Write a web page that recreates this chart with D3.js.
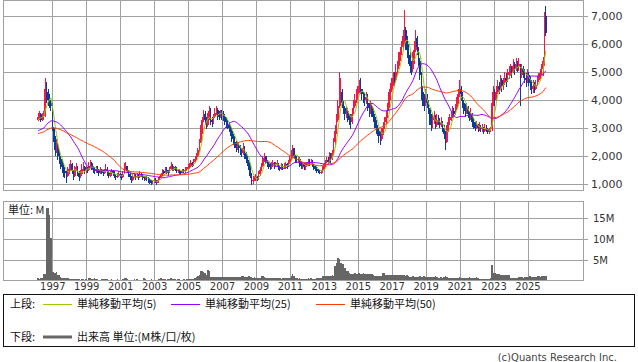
<!DOCTYPE html>
<html>
<head>
<meta charset="utf-8">
<script src="https://cdn.jsdelivr.net/npm/d3@7"></script>
<style>
body { margin: 0; background: #fff; }
</style>
</head>
<body>
<div id="chart"></div>
<script>
// monthly bars, first one is Mar 1996
const startYear = 1996, startMonth = 2

// earlier closes (Feb 1992 - Feb 1996), not drawn: estimated from where the averages start
const priorCloses = [
  2600,2650,2700,2600,2550,2650,2700,2750,2700,2650,2600,2700,2750,2800,2700,2650,2700,2750,2800,2750,2700,2650,2750,2800,2700,
  2750,2800,2850,2800,2750,2700,2800,2850,2900,2850,2800,2750,2700,2750,2800,2850,2900,2850,2800,2750,
  3150,3250,3300,3300
]

const closes = [
  3400,3500,3300,3450,3450,4400,4300,4000,3900,3800,
  3000,2600,2200,2400,2000,1900,1700,1600,1450,1400,1300,1450,
  1550,1700,1450,1300,1500,1600,1400,1250,1350,1550,1600,1450,
  1550,1500,1650,1750,1600,1500,1450,1550,1500,1400,1500,1450,
  1400,1450,1550,1400,1300,1350,1450,1400,1300,1250,1300,1350,
  1300,1250,1350,1550,1650,1450,1350,1250,1150,1250,1300,1250,
  1300,1250,1350,1300,1250,1200,1250,1200,1150,1100,1050,1100,
  1150,1100,1050,1150,1250,1350,1450,1400,1500,1450,1400,1550,
  1650,1500,1600,1550,1450,1500,1450,1400,1500,1450,1500,1550,
  1600,1650,1750,1700,1800,1900,2000,2200,2500,2900,3300,3500,
  3300,3100,3400,3600,3300,3200,3400,3550,3650,3500,3400,3550,
  3500,3400,3300,3200,3100,3000,2900,2700,2600,2500,2300,2350,
  2300,2200,2100,2300,2100,1900,1800,1600,1300,1100,1150,1200,
  1250,1200,1350,1500,1650,1900,2000,1800,1750,1700,1600,1700,
  1750,1650,1700,1750,1600,1550,1650,1600,1650,1700,1650,1750,
  1900,2100,2300,2000,1900,1850,1900,1700,1650,1700,1600,1650,
  1700,1800,1750,1800,1650,1600,1550,1500,1450,1400,1420,1550,
  1650,1750,1850,1800,2000,1900,2100,2500,2900,3300,3800,4300,
  4300,3900,3700,3500,3600,3400,3300,3200,3500,3800,4000,4200,
  4300,4500,4400,4200,4100,4000,4100,3900,3700,3800,3600,3400,
  3300,3000,2900,2700,2600,2800,3000,3200,3400,3700,4100,4400,
  4600,4800,4700,5000,5200,5500,5700,5900,6300,6500,6200,5800,
  5600,5200,5100,5400,5800,6200,5900,5400,4900,4300,4000,3800,
  4100,3900,3700,3400,3100,3300,3400,3100,3300,3200,3100,3200,
  3000,2800,2500,2900,3200,3300,3400,3600,3500,3700,3900,4200,
  4400,4200,3900,3700,3600,3700,3500,3400,3500,3200,3100,3000,
  3100,3000,3050,2950,3000,2900,3000,2950,2850,2900,2950,3900,
  4200,4000,4300,4500,4400,4700,4500,4600,4800,4700,4900,5000,
  5100,5000,5200,5100,5300,5200,5300,4900,5100,5000,4800,4700,
  4900,4700,4600,4400,4500,4400,4550,4700,4800,4950,5100,5400,
  7000,6400
]

const highs = [
  3550,3600,3550,3550,3600,4800,4650,4400,4200,4000,
  3900,3050,2700,2600,2450,2200,2000,1900,1750,1600,1450,1600,
  1700,1850,1750,1500,1650,1750,1650,1450,1500,1700,1800,1650,
  1650,1600,1800,1850,1800,1650,1600,1650,1650,1550,1600,1550,
  1500,1550,1700,1600,1450,1450,1550,1500,1450,1350,1400,1450,
  1400,1350,1450,1750,1800,1650,1500,1400,1300,1350,1400,1350,
  1400,1350,1450,1400,1350,1300,1300,1300,1250,1200,1150,1150,
  1200,1200,1150,1250,1300,1400,1550,1500,1600,1600,1500,1600,
  1780,1700,1650,1650,1600,1550,1550,1500,1550,1550,1600,1600,
  1700,1750,1850,1800,1900,2000,2100,2300,2600,3100,3400,3650,
  3600,3400,3550,3800,3700,3400,3500,3700,3800,3700,3600,3650,
  3650,3600,3500,3400,3300,3200,3100,3000,2800,2700,2550,2500,
  2500,2400,2300,2450,2350,2150,2000,1850,1700,1400,1300,1300,
  1350,1300,1450,1600,1750,2000,2100,2000,1850,1800,1750,1800,
  1850,1800,1800,1850,1750,1650,1750,1700,1750,1800,1750,1850,
  2000,2200,2400,2300,2050,2000,2000,1950,1800,1800,1750,1750,
  1800,1900,1900,1900,1850,1700,1650,1600,1550,1500,1500,1650,
  1700,1850,1950,1950,2150,2100,2200,2650,3100,3500,4000,5000,
  4800,4400,4000,3800,3800,3700,3500,3500,3700,4000,4200,4400,
  4500,4700,4800,4400,4300,4250,4300,4200,3900,3950,3900,3700,
  3500,3300,3100,3000,2900,3000,3200,3400,3600,3900,4300,4600,
  4800,5000,5000,5300,5400,5700,5900,6100,6500,7200,6600,6300,
  6000,5700,5400,5700,6100,6500,6300,5900,5500,5000,4500,4200,
  4400,4200,4000,3700,3500,3500,3600,3450,3500,3450,3350,3400,
  3250,3100,2900,3100,3400,3500,3600,3800,3700,3850,4100,4400,
  4700,4500,4300,4000,3850,3900,3800,3600,3700,3550,3350,3200,
  3250,3150,3200,3100,3150,3050,3150,3100,3000,3000,3050,4300,
  4500,4400,4500,4700,4650,4900,4800,4800,5000,4950,5100,5200,
  5300,5200,5450,5350,5500,5400,5500,5300,5300,5200,5100,4950,
  5100,5000,4850,4700,4700,4650,4700,4850,4950,5100,5300,5550,
  7150,7350
]

const lows = [
  3250,3300,3200,3250,3300,3400,3900,3800,3700,3600,
  2900,2500,2000,2100,1850,1700,1550,1400,1250,1200,1050,1250,
  1350,1450,1350,1150,1250,1450,1300,1100,1200,1300,1450,1350,
  1400,1400,1450,1600,1500,1400,1350,1400,1400,1300,1350,1350,
  1300,1350,1400,1300,1200,1250,1300,1300,1200,1150,1200,1250,
  1200,1150,1200,1350,1500,1400,1250,1150,1050,1100,1200,1150,
  1200,1150,1200,1250,1150,1100,1150,1100,1050,1000,960,1000,
  1050,1050,980,1050,1150,1250,1300,1350,1400,1350,1300,1400,
  1500,1450,1450,1450,1400,1400,1350,1350,1400,1400,1400,1450,
  1500,1550,1600,1600,1650,1750,1850,1950,2150,2450,2800,3200,
  3100,2950,3050,3300,3100,3050,3150,3350,3450,3300,3300,3350,
  3300,3250,3100,3000,2950,2850,2700,2500,2400,2300,2150,2200,
  2100,2050,1950,2050,1900,1750,1650,1500,1200,950,1000,1100,
  1100,1100,1150,1300,1450,1600,1800,1700,1600,1550,1500,1550,
  1600,1550,1600,1600,1500,1450,1500,1500,1550,1550,1550,1600,
  1700,1850,1900,1900,1750,1750,1750,1600,1550,1550,1500,1500,
  1600,1650,1650,1700,1600,1500,1450,1400,1380,1350,1350,1400,
  1500,1600,1750,1700,1750,1750,1850,2050,2400,2800,3200,3700,
  3800,3700,3500,3300,3350,3200,3100,2950,3150,3500,3700,3900,
  4000,4250,4200,4000,3900,3800,3850,3600,3400,3500,3400,3200,
  3000,2800,2700,2450,2400,2550,2750,2950,3150,3350,3600,4000,
  4300,4500,4500,4650,4900,5100,5400,5600,5800,6000,5800,5500,
  5300,4950,4900,5000,5300,5700,5600,5200,4700,4000,3800,3600,
  3800,3700,3500,3100,2900,3000,3150,2950,3050,3100,3000,3050,
  2850,2600,2200,2450,2850,3100,3250,3350,3400,3450,3650,3850,
  4100,3950,3700,3500,3400,3500,3350,3250,3300,3050,2950,2900,
  2950,2850,2900,2850,2850,2800,2850,2850,2780,2800,2850,2900,
  3800,3800,3950,4200,4200,4350,4300,4350,4550,4450,4650,4750,
  4850,4800,4950,4900,5050,5000,5050,3800,4800,4800,4600,4450,
  4600,4500,4350,4200,4250,4250,4350,4500,4650,4750,4900,4850,
  5200,6300
]

// volume, millions of shares
const volumes = [
  0.6,0.5,0.6,0.7,1.6,1.7,17.5,17.3,15.7,10.2,
  2.2,2.1,2.0,2.1,1.5,1.4,0.9,0.8,0.8,0.7,0.7,0.6,
  0.5,0.5,0.4,0.4,0.4,0.5,0.4,0.4,0.3,0.4,0.4,0.3,
  0.4,0.3,0.7,0.8,0.5,0.4,0.6,0.5,0.4,0.3,0.3,0.4,
  0.4,0.5,0.5,0.4,0.3,0.3,0.4,0.3,0.3,0.3,0.4,0.3,
  0.3,0.3,0.4,0.7,0.6,0.4,0.3,0.3,0.3,0.3,0.4,0.3,
  0.4,0.3,0.3,0.3,0.3,0.6,0.4,0.3,0.3,0.3,0.4,0.3,
  0.3,0.3,0.3,0.4,0.5,0.6,0.5,0.4,0.4,0.3,0.4,0.5,
  0.7,0.5,0.4,0.4,0.3,0.4,0.5,0.3,0.3,0.4,0.3,0.4,
  0.4,0.5,0.5,0.4,0.5,0.6,0.9,1.1,1.4,2.4,2.3,2.1,
  1.8,1.4,2.6,2.4,1.0,1.0,0.9,1.0,0.9,0.9,1.0,0.9,
  0.9,0.9,0.9,0.9,0.9,0.9,0.9,1.0,1.0,0.9,0.9,1.0,
  1.0,0.9,1.1,1.1,1.0,0.9,1.0,1.1,1.0,1.0,0.8,0.9,
  0.7,0.6,0.7,0.8,1.1,1.2,1.0,0.8,0.7,0.7,0.6,0.6,
  0.6,0.6,0.6,0.6,0.7,0.6,0.5,0.6,0.6,0.6,0.7,0.6,
  0.8,1.3,1.7,1.2,0.8,0.6,0.5,0.6,0.5,0.4,0.5,0.5,
  0.5,0.6,0.5,0.6,0.5,0.4,0.5,0.8,0.8,0.7,0.8,1.1,
  1.1,1.2,1.3,1.3,1.2,1.3,1.4,1.3,3.6,4.4,5.5,5.3,
  4.3,4.0,4.0,3.0,2.4,2.4,2.0,1.6,1.6,1.7,1.8,1.7,
  1.7,1.8,1.7,1.7,1.8,1.7,1.6,1.7,1.7,1.7,1.6,1.5,
  1.3,1.2,1.2,1.2,1.3,1.3,1.9,2.0,1.4,1.4,1.4,1.5,
  1.4,1.4,1.5,1.4,1.4,1.4,1.5,1.4,1.4,1.4,1.3,1.4,
  1.2,1.0,1.0,1.1,1.0,1.0,1.0,1.0,1.1,1.0,1.0,1.2,
  1.0,1.0,1.0,0.9,1.0,1.0,1.0,1.2,1.0,0.8,0.8,0.9,
  0.8,0.9,1.2,0.9,0.8,0.8,0.8,0.7,0.8,0.8,0.8,0.8,
  0.9,0.8,0.8,0.8,0.7,0.8,0.8,1.0,0.8,0.8,0.8,0.8,
  0.9,0.6,0.5,0.5,0.5,0.5,0.5,0.5,0.5,0.5,0.6,3.8,
  1.9,1.8,1.6,1.6,1.6,1.5,1.4,1.4,1.4,1.4,1.4,1.4,
  0.8,0.8,0.8,0.8,0.8,0.8,0.9,1.0,0.9,0.8,1.0,1.0,
  1.0,1.0,1.1,1.0,1.0,1.0,1.0,1.1,1.1,1.0,1.2,1.3,
  1.2,1.1
]

const priceTicks = [1000, 2000, 3000, 4000, 5000, 6000, 7000]
const volumeTicks = [5, 10, 15]
const yearTicks = [1997, 1999, 2001, 2003, 2005, 2007, 2009, 2011, 2013, 2015, 2017, 2019, 2021, 2023, 2025]
const maPeriods = [5, 25, 50]
const maLabels = ["単純移動平均(5)", "単純移動平均(25)", "単純移動平均(50)"]
const volumeLabel = "出来高 単位:(M株/口/枚)"

let dimensions = {
  width: 638, height: 362,
  plotLeft: 3, plotRight: 583,
  priceTop: 0, priceBottom: 190,
  volTop: 201, volBottom: 280,
}

const maColors = ["#9c0", "#90f", "#ff3c00"]
const upColor = "#f5164a", downColor = "#0a3c9c", gridColor = "#a0a0a0"

const allCloses = priorCloses.concat(closes)
const bars = closes.map(function(c, i) {
  return {
    date: new Date(startYear, startMonth + i, 1),
    open: allCloses[priorCloses.length + i - 1],
    high: highs[i], low: lows[i], close: c, volume: volumes[i],
  }
})

function sma(period) {
  return allCloses.map(function(c, i) {
    return d3.mean(allCloses.slice(Math.max(0, i - period + 1), i + 1))
  }).slice(priorCloses.length)
}

const svg = d3.select("#chart").append("svg")
  .attr("width", dimensions.width)
  .attr("height", dimensions.height)
  .style("font-family", '"DejaVu Sans", sans-serif')

var xScale = d3.scaleTime()
  .domain([new Date(1997, 0, 1), new Date(2025, 0, 1)])
  .range([52.3, 527.5])
var yScale = d3.scaleLinear().domain([1000, 7000]).range([184, 16])
var vScale = d3.scaleLinear().domain([0, 15]).range([281, 218])

const grid = svg.append("g").attr("stroke", gridColor).attr("shape-rendering", "crispEdges")
yearTicks.forEach(function(yr) {
  const gx = Math.round(xScale(new Date(yr, 0, 1))) + 0.5
  grid.append("line").attr("x1", gx).attr("x2", gx)
    .attr("y1", dimensions.priceTop).attr("y2", dimensions.priceBottom)
  grid.append("line").attr("x1", gx).attr("x2", gx)
    .attr("y1", dimensions.volTop).attr("y2", dimensions.volBottom)
})
priceTicks.forEach(function(v) {
  const gy = Math.round(yScale(v)) + 0.5
  grid.append("line").attr("x1", dimensions.plotLeft).attr("x2", dimensions.plotRight).attr("y1", gy).attr("y2", gy)
})
volumeTicks.forEach(function(v) {
  const gy = Math.round(vScale(v)) + 0.5
  grid.append("line").attr("x1", dimensions.plotLeft).attr("x2", dimensions.plotRight).attr("y1", gy).attr("y2", gy)
})

svg.append("rect")
  .attr("x", dimensions.plotLeft + 0.5).attr("y", dimensions.priceTop + 0.5)
  .attr("width", dimensions.plotRight - dimensions.plotLeft)
  .attr("height", dimensions.priceBottom - dimensions.priceTop)
  .attr("fill", "none").attr("stroke", gridColor).attr("shape-rendering", "crispEdges")
svg.append("rect")
  .attr("x", dimensions.plotLeft + 0.5).attr("y", dimensions.volTop + 0.5)
  .attr("width", dimensions.plotRight - dimensions.plotLeft)
  .attr("height", dimensions.volBottom - dimensions.volTop)
  .attr("fill", "none").attr("stroke", gridColor).attr("shape-rendering", "crispEdges")

// candles
const candles = svg.append("g").attr("shape-rendering", "crispEdges")
candles.selectAll("line").data(bars).enter().append("line")
  .attr("x1", d => xScale(d.date)).attr("x2", d => xScale(d.date))
  .attr("y1", d => yScale(d.high)).attr("y2", d => yScale(d.low))
  .attr("stroke", d => d.close >= d.open ? upColor : downColor)
  .attr("stroke-width", 1)
candles.selectAll("rect").data(bars).enter().append("rect")
  .attr("x", d => xScale(d.date) - 0.8)
  .attr("width", 1.6)
  .attr("y", d => yScale(Math.max(d.open, d.close)))
  .attr("height", d => Math.max(1, Math.abs(yScale(d.open) - yScale(d.close))))
  .attr("fill", d => d.close >= d.open ? upColor : downColor)

// moving averages
maPeriods.forEach(function(p, k) {
  const ma = sma(p)
  const line = d3.line()
    .x((d, i) => xScale(bars[i].date))
    .y(d => yScale(d))
  svg.append("path")
    .attr("d", line(ma))
    .attr("fill", "none")
    .attr("stroke", maColors[k])
    .attr("stroke-width", 1)
})

// volume bars
svg.append("g").attr("shape-rendering", "crispEdges")
  .selectAll("rect").data(bars).enter().append("rect")
  .attr("x", d => xScale(d.date) - 0.75)
  .attr("width", 1.5)
  .attr("y", d => vScale(d.volume))
  .attr("height", d => dimensions.volBottom - vScale(d.volume))
  .attr("fill", "#666")

svg.append("text")
  .attr("x", 8).attr("y", 214)
  .style("font-family", '"Noto Sans CJK JP", sans-serif')
  .style("font-size", "11px").attr("fill", "#222")
  .text("単位: M")

// axes
const yAxis = svg.append("g")
  .attr("transform", `translate(${dimensions.plotRight},0)`)
  .call(d3.axisRight(yScale).tickValues(priceTicks).tickSize(5).tickPadding(3).tickFormat(d3.format(",")))
yAxis.select(".domain").remove()
yAxis.selectAll("line").attr("stroke", gridColor)
yAxis.selectAll("text").attr("fill", "#333").style("font-size", "11px").style("font-family", '"DejaVu Sans", sans-serif')

const vAxis = svg.append("g")
  .attr("transform", `translate(${dimensions.plotRight},0)`)
  .call(d3.axisRight(vScale).tickValues(volumeTicks).tickSize(5).tickPadding(5).tickFormat(d => d + "M"))
vAxis.select(".domain").remove()
vAxis.selectAll("line").attr("stroke", gridColor)
vAxis.selectAll("text").attr("fill", "#333").style("font-size", "10px").style("font-family", '"DejaVu Sans", sans-serif')

const xAxis = svg.append("g")
  .attr("transform", `translate(0,${dimensions.volBottom})`)
  .call(d3.axisBottom(xScale).tickValues(yearTicks.map(y => new Date(y, 0, 1))).tickSize(0).tickPadding(3).tickFormat(d3.timeFormat("%Y")))
xAxis.select(".domain").remove()
xAxis.selectAll("text").attr("fill", "#333").style("font-size", "10px").style("font-family", '"DejaVu Sans", sans-serif')

// legend
const legend = svg.append("g").style("font-family", '"Noto Sans CJK JP", sans-serif').style("font-size", "11px")
legend.append("rect")
  .attr("x", 3.5).attr("y", 294.5).attr("width", 631).attr("height", 52)
  .attr("fill", "none").attr("stroke", "#111").attr("shape-rendering", "crispEdges")

legend.append("text").attr("x", 10).attr("y", 308).attr("fill", "#111").text("上段:")
const legendX = [43, 171, 316]
maLabels.forEach(function(lbl, k) {
  legend.append("line")
    .attr("x1", legendX[k]).attr("x2", legendX[k] + 29)
    .attr("y1", 304.5).attr("y2", 304.5)
    .attr("stroke", maColors[k]).attr("stroke-width", 1)
  legend.append("text").attr("x", legendX[k] + 34).attr("y", 308).attr("fill", "#111").text(lbl)
})

legend.append("text").attr("x", 10).attr("y", 341).attr("fill", "#111").text("下段:")
legend.append("line")
  .attr("x1", 43).attr("x2", 72).attr("y1", 337).attr("y2", 337)
  .attr("stroke", "#666").attr("stroke-width", 3)
legend.append("text").attr("x", 77).attr("y", 341).attr("fill", "#111").text(volumeLabel)

svg.append("text")
  .attr("x", 617).attr("y", 361)
  .attr("text-anchor", "end")
  .style("font-size", "10px").attr("fill", "#444")
  .text("(c)Quants Research Inc.")
</script>
</body>
</html>
